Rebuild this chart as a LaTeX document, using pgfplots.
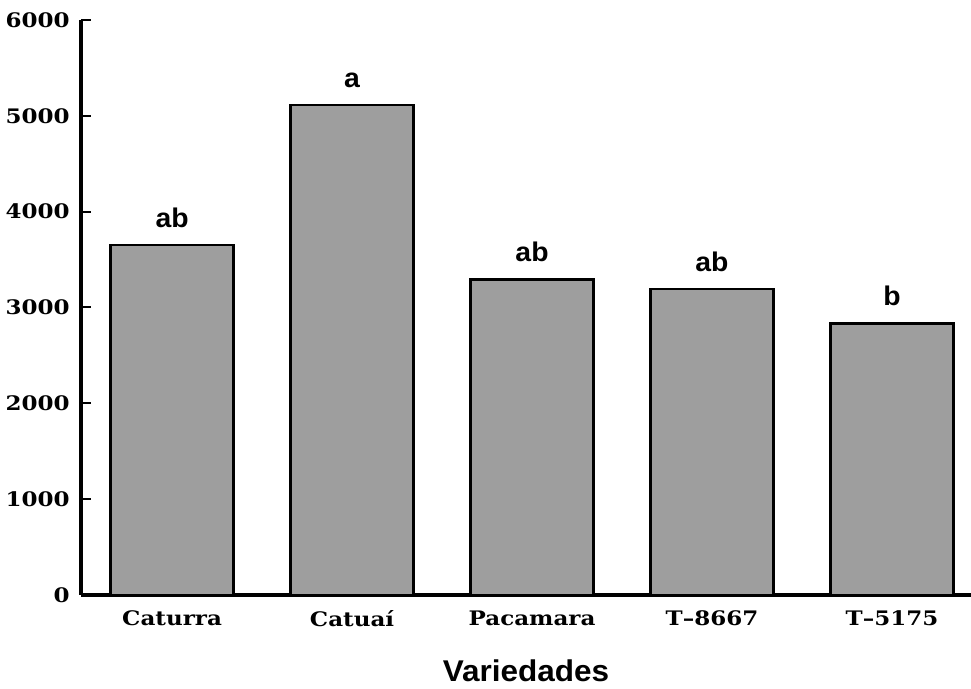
\documentclass[border=0pt]{standalone}
\usepackage{fontspec}
\usepackage{pgfplots}
\pgfplotsset{compat=1.18}
\newfontfamily\tickfamily[FakeStretch=1.15]{DejaVu Serif}
\newfontfamily\lblfamily[FakeStretch=1.05]{Liberation Sans}
\newcommand\tickfont{\tickfamily\bfseries\fontsize{10pt}{12pt}\selectfont}
\newcommand\lblfont{\lblfamily\bfseries\fontsize{13.5pt}{15pt}\selectfont}
\newcommand\xlabfont{\lblfamily\bfseries\fontsize{15pt}{17pt}\selectfont}
\begin{document}
\begin{tikzpicture}
\begin{axis}[
  name=ax,
  scale only axis,
  width=445pt, height=287.5pt,
  xmin=-0.506, xmax=4.439,
  ymin=0, ymax=6000,
  axis lines*=left,
  axis line style={line width=1.6pt},
  tick align=inside,
  major tick length=5pt,
  tick style={line width=1pt, black},
  xtick={0,1,2,3,4},
  xticklabels={Caturra,Catuaí,Pacamara,T–8667,T–5175},
  ytick={0,1000,2000,3000,4000,5000,6000},
  /pgf/number format/assume math mode=true,
  scaled y ticks=false,
  yticklabel={\pgfmathprintnumber[fixed,1000 sep={}]{\tick}},
  ticklabel style={font=\tickfont},
  xticklabel style={yshift=-4.2pt},
  yticklabel style={xshift=-2.2pt},
  xlabel={Variedades},
  xlabel style={font=\xlabfont, at={(axis description cs:0.5,0)}, anchor=base, yshift=-43.5pt},
  clip=false,
]
\addplot[ybar, bar width=0.683, draw=black, line width=1.3pt, fill=black!38,
  nodes near coords, point meta=explicit symbolic,
  nodes near coords style={font=\lblfont, anchor=base, yshift=9pt, text=black}]
  table[x=x, y=y, meta=lab] {
x y lab
0 3652 ab
1 5113 a
2 3295 ab
3 3193 ab
4 2835 b
};
\end{axis}
\pgfresetboundingbox
\path[use as bounding box] ([shift={(-40.5pt,-47pt)}]ax.south west) rectangle ([shift={(0pt,10pt)}]ax.north east);
\end{tikzpicture}
\end{document}
